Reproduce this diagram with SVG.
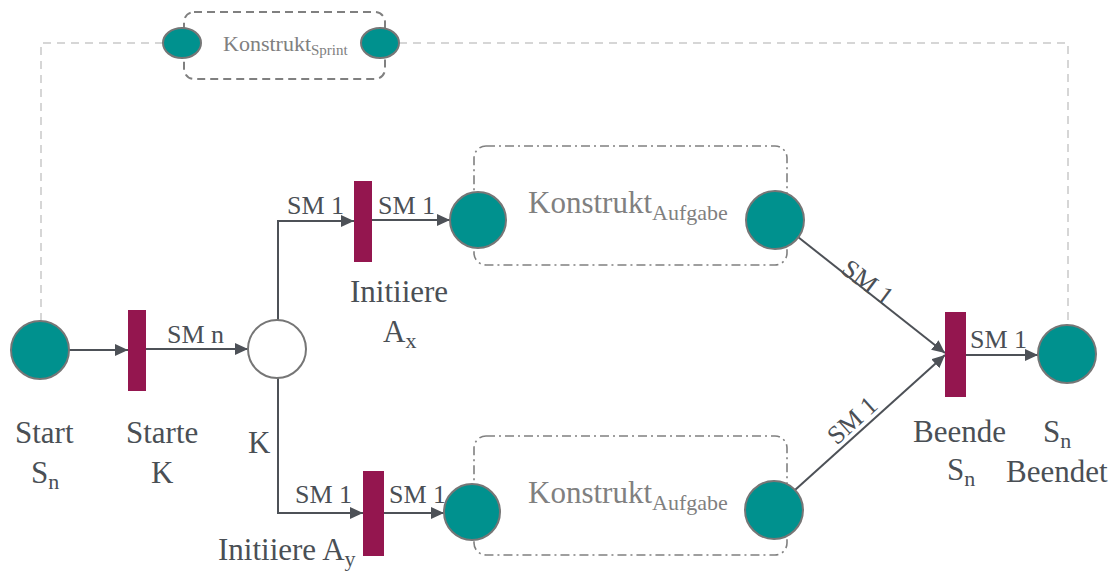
<svg xmlns="http://www.w3.org/2000/svg" width="1118" height="571" viewBox="0 0 1118 571">
<style>
text{font-family:'Liberation Serif','DejaVu Serif',serif}
.lbl{fill:#4a4f55;font-size:31px}
.sm{fill:#4a4f55;font-size:26px}
.kon{fill:#808080}
.place{fill:#00918e;stroke:#767676;stroke-width:2}
.empty{fill:#ffffff;stroke:#767676;stroke-width:2}
.trans{fill:#94164f}
.arc{fill:none;stroke:#4d5157;stroke-width:2}
.sprintline{fill:none;stroke:#d6d6d6;stroke-width:2;stroke-dasharray:8,6}
.sprintbox{fill:none;stroke:#808080;stroke-width:2;stroke-dasharray:8,5}
.taskbox{fill:none;stroke:#808080;stroke-width:1.6;stroke-dasharray:9,4,2,4}
</style>
<defs>
<marker id="arr" markerUnits="userSpaceOnUse" markerWidth="14" markerHeight="12" refX="13" refY="6" orient="auto">
<path d="M0,0 L13,6 L0,12 Z" fill="#4d5157"/>
</marker>
</defs>
<rect width="1118" height="571" fill="#ffffff"/>

<g id="connectors">
<polyline class="sprintline" points="41,321 41,43 163,43"/>
<polyline class="sprintline" points="399,43 1068,43 1068,325"/>
<line class="arc" x1="69" y1="350" x2="128" y2="350" marker-end="url(#arr)"/>
<line class="arc" x1="146" y1="349" x2="248" y2="349" marker-end="url(#arr)"/>
<polyline class="arc" points="278,320 278,221 354,221" marker-end="url(#arr)"/>
<line class="arc" x1="372" y1="220" x2="450" y2="220" marker-end="url(#arr)"/>
<polyline class="arc" points="278,378 278,513 363,513" marker-end="url(#arr)"/>
<line class="arc" x1="384" y1="513" x2="444" y2="513" marker-end="url(#arr)"/>
<line class="arc" x1="798" y1="237" x2="945" y2="353" marker-end="url(#arr)"/>
<line class="arc" x1="795" y1="490" x2="945" y2="355" marker-end="url(#arr)"/>
<line class="arc" x1="966" y1="355" x2="1038" y2="355" marker-end="url(#arr)"/>
<text class="sm" x="167" y="343">SM n</text>
<text class="sm" x="287" y="214">SM 1</text>
<text class="sm" x="378" y="214">SM 1</text>
<text class="sm" x="295" y="503">SM 1</text>
<text class="sm" x="389" y="503">SM 1</text>
<text class="sm" x="970" y="348">SM 1</text>
<text class="sm" transform="translate(868,282) rotate(37)" text-anchor="middle" y="9">SM 1</text>
<text class="sm" transform="translate(852,420) rotate(-42)" text-anchor="middle" y="9">SM 1</text>
<text class="lbl" x="248" y="453">K</text>
</g>

<g id="sprint">
<rect class="sprintbox" x="184" y="12" width="201" height="67" rx="10"/>
<ellipse class="place" cx="182" cy="43" rx="19" ry="15"/>
<ellipse class="place" cx="380" cy="43" rx="19" ry="15"/>
<text class="kon" x="223" y="51" font-size="22">Konstrukt<tspan font-size="15" dy="4">Sprint</tspan></text>
</g>

<g id="start">
<circle class="place" cx="40" cy="350" r="29"/>
<text class="lbl" x="15" y="443">Start</text>
<text class="lbl" x="31" y="483">S<tspan font-size="22" dy="6">n</tspan></text>
</g>

<g id="starte-k">
<rect class="trans" x="128" y="310" width="18" height="81"/>
<text class="lbl" x="126" y="443">Starte</text>
<text class="lbl" x="151" y="483">K</text>
</g>

<g id="k">
<circle class="empty" cx="277" cy="349" r="29"/>
</g>

<g id="initiiere-ax">
<rect class="trans" x="354" y="181" width="18" height="81"/>
<text class="lbl" x="350" y="302">Initiiere</text>
<text class="lbl" x="383" y="342">A<tspan font-size="22" dy="6">x</tspan></text>
</g>

<g id="initiiere-ay">
<rect class="trans" x="363" y="471" width="21" height="85"/>
<text class="lbl" x="218" y="560">Initiiere A<tspan font-size="22" dy="6">y</tspan></text>
</g>

<g id="aufgabe-x">
<rect class="taskbox" x="474" y="146" width="313" height="119" rx="12"/>
<circle class="place" cx="478" cy="220" r="28"/>
<circle class="place" cx="775" cy="220" r="29"/>
<text class="kon" x="528" y="213" font-size="31">Konstrukt<tspan font-size="22" dy="7">Aufgabe</tspan></text>
</g>

<g id="aufgabe-y">
<rect class="taskbox" x="474" y="436" width="313" height="119" rx="12"/>
<circle class="place" cx="472" cy="512" r="28"/>
<circle class="place" cx="774" cy="510" r="29"/>
<text class="kon" x="528" y="503" font-size="31">Konstrukt<tspan font-size="22" dy="7">Aufgabe</tspan></text>
</g>

<g id="beende-sn">
<rect class="trans" x="945" y="312" width="21" height="85"/>
<text class="lbl" x="913" y="442">Beende</text>
<text class="lbl" x="947" y="480">S<tspan font-size="22" dy="6">n</tspan></text>
</g>

<g id="sn-beendet">
<circle class="place" cx="1067" cy="354" r="29"/>
<text class="lbl" x="1043" y="442">S<tspan font-size="22" dy="6">n</tspan></text>
<text class="lbl" x="1006" y="482">Beendet</text>
</g>
</svg>
